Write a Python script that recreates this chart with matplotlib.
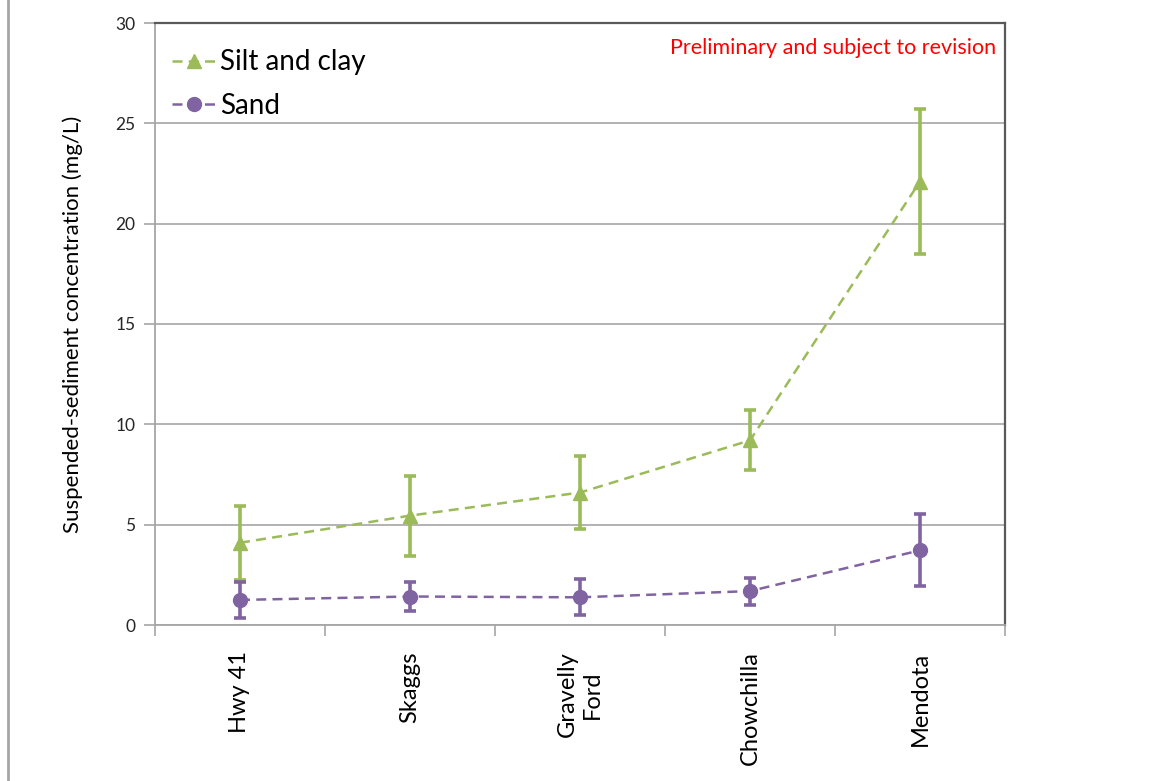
import matplotlib
matplotlib.use("Agg")
import matplotlib.pyplot as plt
from matplotlib.lines import Line2D
import numpy as np

plt.rcParams['font.family'] = ['Lato', 'DejaVu Sans']

sites = ["Hwy 41", "Skaggs", "Gravelly\nFord", "Chowchilla", "Mendota"]
silt_clay = [4.1, 5.45, 6.6, 9.2, 22.1]
silt_clay_err = [1.85, 2.0, 1.8, 1.5, 3.6]
sand = [1.25, 1.42, 1.38, 1.69, 3.72]
sand_err = [0.9, 0.72, 0.9, 0.67, 1.8]
y_ticks = [0, 5, 10, 15, 20, 25, 30]

green = "#9BBB59"
purple = "#8064A2"
dash = (0, (4, 2.5))

fig = plt.figure(figsize=(11.52, 7.81), dpi=100)
ax = fig.add_axes([155/1152, 1 - 625/781, 850/1152, 602/781])

x = np.arange(len(sites))

ax.errorbar(x, silt_clay, yerr=silt_clay_err, color=green, ls=dash, lw=1.8,
            marker='^', ms=10, elinewidth=2.6, capsize=4, capthick=2.6, zorder=4)
ax.errorbar(x, sand, yerr=sand_err, color=purple, ls=dash, lw=1.8,
            marker='o', ms=10, elinewidth=2.6, capsize=4, capthick=2.6, zorder=4)

ax.set_xlim(-0.5, len(sites) - 0.5)
ax.set_ylim(0, 30)
ax.set_yticks(y_ticks)
ax.yaxis.grid(True, color='#a6a6a6', lw=1.2)
ax.set_axisbelow(True)

ax.set_xticks(x)
ax.set_xticklabels(sites, rotation=90, va='top', ha='center', multialignment='center',
                   fontsize=17)
ax.set_xticks(np.arange(-0.5, len(sites), 1.0), minor=True)
ax.tick_params(axis='x', which='major', length=0, pad=19)
ax.tick_params(axis='x', which='minor', length=8, width=1.2, color='#a6a6a6', direction='out')
ax.tick_params(axis='y', length=8, width=1.2, color='#a6a6a6', labelsize=12.5, pad=6,
               labelcolor='#262626')

for s in ['left', 'bottom']:
    ax.spines[s].set_color('#a6a6a6')
    ax.spines[s].set_linewidth(1.3)
for s in ['top', 'right']:
    ax.spines[s].set_color('#595959')
    ax.spines[s].set_linewidth(1.6)

ax.set_ylabel("Suspended-sediment concentration (mg/L)", fontsize=16, labelpad=23)

handles = [Line2D([], [], color=green, ls=dash, lw=1.8, marker='^', ms=10),
           Line2D([], [], color=purple, ls=dash, lw=1.8, marker='o', ms=10)]
ax.legend(handles, ["Silt and clay", "Sand"], loc='upper left', frameon=False,
          fontsize=20, handlelength=1.55, handletextpad=0.18, borderaxespad=0,
          borderpad=0, labelspacing=0.63, bbox_to_anchor=(0.02, 0.956))

ax.text(0.99, 0.959, "Preliminary and subject to revision", transform=ax.transAxes,
        ha='right', va='center', color='#FF0000', fontsize=15.5)

fig.add_artist(Line2D([8/1152, 8/1152], [0, 1], transform=fig.transFigure,
                      color='#a6a6a6', lw=2))

fig.savefig("out.png", dpi=100)
